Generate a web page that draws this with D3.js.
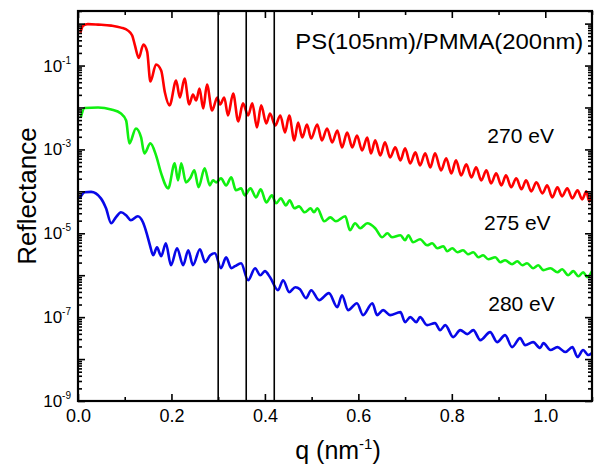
<!DOCTYPE html>
<html>
<head>
<meta charset="utf-8">
<script src="https://cdn.jsdelivr.net/npm/d3@7"></script>
<style>
  body { margin: 0; background: #fff; }
  text { font-family: "Liberation Sans", Arial, sans-serif; fill: #000; }
</style>
</head>
<body>
<svg id="chart" width="595" height="464"></svg>
<script>
// values: [q (nm^-1), reflectance]
const red270 = [
  [0.005, 6.1e-1], [0.011, 8.96e-1], [0.021, 9.73e-1], [0.043, 9.47e-1], [0.071, 8.96e-1],
  [0.092, 8.03e-1], [0.107, 6.81e-1], [0.116, 5.18e-1], [0.122, 2.99e-1], [0.130, 1.51e-1],
  [0.140, 3.16e-1], [0.148, 2.15e-1], [0.155, 4.16e-2], [0.167, 1.06e-1], [0.178, 7.6e-2],
  [0.186, 2.28e-2], [0.196, 1.12e-2], [0.210, 4.39e-2], [0.218, 1.73e-2], [0.228, 4.9e-2],
  [0.238, 1.18e-2], [0.246, 2.04e-2], [0.253, 1.47e-2], [0.260, 2.83e-2], [0.268, 9.47e-3],
  [0.276, 3.53e-2], [0.287, 8.48e-3], [0.298, 1.73e-2], [0.304, 1.18e-2], [0.313, 1.73e-2],
  [0.321, 6.45e-3], [0.332, 2.15e-2], [0.343, 4.64e-3], [0.353, 1.25e-2], [0.364, 6.45e-3],
  [0.373, 1.25e-2], [0.383, 3.34e-3], [0.392, 1.12e-2], [0.403, 4.16e-3], [0.411, 7.2e-3],
  [0.422, 3.73e-3], [0.433, 6.45e-3], [0.443, 2.54e-3], [0.452, 6.45e-3], [0.463, 1.64e-3],
  [0.471, 4.39e-3], [0.480, 1.93e-3], [0.490, 3.94e-3], [0.499, 1.83e-3], [0.512, 3.94e-3],
  [0.522, 1.64e-3], [0.533, 3.16e-3], [0.544, 1.47e-3], [0.555, 2.83e-3], [0.565, 1.12e-3],
  [0.576, 2.54e-3], [0.587, 1.12e-3], [0.597, 2.15e-3], [0.608, 9.47e-4], [0.619, 1.93e-3],
  [0.627, 8.03e-4], [0.636, 1.64e-3], [0.647, 7.2e-4], [0.657, 1.47e-3], [0.668, 6.45e-4],
  [0.679, 1.12e-3], [0.690, 5.47e-4], [0.700, 1.06e-3], [0.711, 4.64e-4], [0.722, 8.48e-4],
  [0.732, 4.16e-4], [0.743, 8.03e-4], [0.754, 3.73e-4], [0.764, 8.03e-4], [0.777, 3.16e-4],
  [0.788, 6.11e-4], [0.799, 2.68e-4], [0.809, 5.47e-4], [0.820, 2.4e-4], [0.831, 4.39e-4],
  [0.842, 2.15e-4], [0.852, 3.73e-4], [0.863, 1.83e-4], [0.874, 3.16e-4], [0.884, 1.55e-4],
  [0.895, 2.68e-4], [0.906, 1.39e-4], [0.916, 2.4e-4], [0.927, 1.25e-4], [0.938, 2.04e-4],
  [0.949, 1.12e-4], [0.959, 1.83e-4], [0.970, 1.0e-4], [0.981, 1.64e-4], [0.994, 8.96e-5],
  [1.004, 1.39e-4], [1.015, 7.2e-5], [1.026, 1.25e-4], [1.036, 7.6e-5], [1.047, 1.18e-4],
  [1.058, 6.81e-5], [1.069, 1.06e-4], [1.079, 6.45e-5], [1.088, 1.0e-4], [1.094, 5.78e-5],
  [1.100, 8.48e-5]
];

const green275 = [
  [0.006, 5.78e-3], [0.014, 9.73e-3], [0.043, 1.0e-2], [0.071, 8.96e-3], [0.092, 7.2e-3],
  [0.103, 4.9e-3], [0.110, 1.39e-3], [0.124, 3.16e-3], [0.135, 1.93e-3], [0.142, 8.03e-4],
  [0.155, 1.39e-3], [0.167, 7.2e-4], [0.178, 2.68e-4], [0.193, 1.18e-4], [0.207, 4.64e-4],
  [0.214, 1.83e-4], [0.221, 4.64e-4], [0.231, 1.64e-4], [0.240, 2.04e-4], [0.249, 3.16e-4],
  [0.258, 1.25e-4], [0.271, 3.53e-4], [0.282, 1.39e-4], [0.289, 1.83e-4], [0.296, 1.64e-4],
  [0.306, 2.04e-4], [0.317, 1.39e-4], [0.328, 2.15e-4], [0.338, 1.06e-4], [0.349, 1.18e-4],
  [0.357, 8.03e-5], [0.369, 1.18e-4], [0.381, 7.2e-5], [0.391, 1.12e-4], [0.403, 5.47e-5],
  [0.415, 8.03e-5], [0.424, 5.18e-5], [0.434, 6.81e-5], [0.445, 4.64e-5], [0.453, 6.11e-5],
  [0.463, 3.94e-5], [0.473, 4.39e-5], [0.485, 3.16e-5], [0.498, 3.94e-5], [0.505, 3.16e-5],
  [0.512, 3.94e-5], [0.527, 1.93e-5], [0.540, 2.4e-5], [0.552, 1.93e-5], [0.572, 2.54e-5],
  [0.582, 1.18e-5], [0.593, 1.73e-5], [0.604, 1.32e-5], [0.619, 1.73e-5], [0.636, 1.32e-5],
  [0.651, 8.03e-6], [0.662, 1.0e-5], [0.672, 8.03e-6], [0.690, 8.96e-6], [0.700, 6.81e-6],
  [0.707, 8.96e-6], [0.717, 6.11e-6], [0.732, 7.2e-6], [0.747, 5.18e-6], [0.758, 5.78e-6],
  [0.769, 4.39e-6], [0.782, 4.9e-6], [0.790, 3.73e-6], [0.801, 4.39e-6], [0.812, 3.53e-6],
  [0.824, 3.94e-6], [0.835, 3.16e-6], [0.846, 3.53e-6], [0.857, 2.68e-6], [0.867, 2.99e-6],
  [0.878, 2.4e-6], [0.893, 2.68e-6], [0.904, 2.04e-6], [0.914, 2.28e-6], [0.929, 1.83e-6],
  [0.940, 2.15e-6], [0.951, 1.73e-6], [0.961, 1.93e-6], [0.974, 1.47e-6], [0.985, 1.73e-6],
  [0.996, 1.32e-6], [1.011, 1.47e-6], [1.026, 1.18e-6], [1.036, 1.39e-6], [1.049, 1.0e-6],
  [1.060, 1.25e-6], [1.071, 9.47e-7], [1.081, 1.18e-6], [1.090, 8.96e-7], [1.100, 1.25e-6]
];

const blue280 = [
  [0.004, 6.81e-5], [0.014, 9.47e-5], [0.028, 9.73e-5], [0.049, 6.81e-5], [0.060, 3.94e-5],
  [0.071, 1.73e-5], [0.081, 2.4e-5], [0.092, 3.16e-5], [0.103, 2.68e-5], [0.113, 2.04e-5],
  [0.128, 2.54e-5], [0.139, 1.83e-5], [0.147, 1.0e-5], [0.154, 5.18e-6], [0.161, 2.99e-6],
  [0.169, 4.64e-6], [0.178, 2.83e-6], [0.188, 5.78e-6], [0.199, 1.73e-6], [0.212, 4.39e-6],
  [0.225, 1.73e-6], [0.236, 3.94e-6], [0.246, 1.73e-6], [0.261, 4.16e-6], [0.272, 2.04e-6],
  [0.283, 2.99e-6], [0.293, 3.34e-6], [0.306, 1.47e-6], [0.317, 2.68e-6], [0.328, 1.47e-6],
  [0.336, 1.64e-6], [0.349, 1.93e-6], [0.364, 7.6e-7], [0.379, 1.47e-6], [0.390, 1.0e-6],
  [0.400, 1.25e-6], [0.411, 8.96e-7], [0.428, 4.39e-7], [0.439, 7.6e-7], [0.452, 3.94e-7],
  [0.465, 5.18e-7], [0.475, 4.64e-7], [0.488, 2.83e-7], [0.499, 4.39e-7], [0.516, 2.54e-7],
  [0.537, 3.73e-7], [0.555, 1.73e-7], [0.565, 3.34e-7], [0.578, 1.47e-7], [0.597, 2.15e-7],
  [0.610, 1.12e-7], [0.630, 2.15e-7], [0.640, 1.12e-7], [0.653, 1.47e-7], [0.668, 1.12e-7],
  [0.690, 1.32e-7], [0.700, 7.6e-8], [0.711, 1.0e-7], [0.724, 7.6e-8], [0.732, 1.0e-7],
  [0.747, 6.45e-8], [0.764, 7.2e-8], [0.775, 4.9e-8], [0.786, 6.45e-8], [0.803, 3.34e-8],
  [0.818, 4.9e-8], [0.833, 3.94e-8], [0.846, 4.9e-8], [0.861, 2.83e-8], [0.882, 4.39e-8],
  [0.897, 2.54e-8], [0.914, 3.73e-8], [0.929, 1.93e-8], [0.946, 3.16e-8], [0.957, 2.15e-8],
  [0.974, 2.54e-8], [0.989, 1.83e-8], [0.996, 2.4e-8], [1.011, 1.64e-8], [1.026, 1.93e-8],
  [1.043, 1.47e-8], [1.058, 1.93e-8], [1.069, 1.12e-8], [1.081, 1.64e-8], [1.092, 1.25e-8],
  [1.100, 1.39e-8]
];

// vertical marker lines
const markerQ = [0.3, 0.36, 0.42];

// tick labels
const xTicks = [0, 0.2, 0.4, 0.6, 0.8, 1.0];
const xMinorTicks = [0.1, 0.3, 0.5, 0.7, 0.9, 1.1];
const yLabelExps = [-1, -3, -5, -7, -9];

// text annotations placed in data coordinates
const annotations = [
  { text: "PS(105nm)/PMMA(200nm)", q: 0.465, r: 0.254, width: 288 },
  { text: "270 eV", q: 0.876, r: 1.39e-3 },
  { text: "275 eV", q: 0.869, r: 1.18e-5 },
  { text: "280 eV", q: 0.878, r: 1.39e-7 }
];

const series = [
  { values: red270, color: "#ff0000" },
  { values: green275, color: "#10f010" },
  { values: blue280, color: "#0808e8" }
];

let svg = d3.select("#chart");

const plotLeft = 78, plotRight = 592, plotTop = 11, plotBottom = 401;

let x = d3.scaleLinear().domain([0, 1.1]).range([plotLeft, plotRight]);
let y = d3.scaleLog().domain([1e-9, 2]).range([plotBottom, plotTop]);

// decade and minor ticks for the log axis
let decades = d3.range(-9, 1).map((e) => +("1e" + e));
let minors = [];
d3.range(-9, 1).forEach(function (e) {
  for (let m = 2; m <= 9; m++) {
    let v = +(m + "e" + e);
    if (v <= 2) minors.push(v);
  }
});

svg.append("clipPath").attr("id", "plotClip")
  .append("rect")
  .attr("x", plotLeft).attr("y", plotTop)
  .attr("width", plotRight - plotLeft).attr("height", plotBottom - plotTop);

// curves
let line = d3.line()
  .x((d) => x(d[0]))
  .y((d) => y(d[1]))
  .curve(d3.curveMonotoneX);

let curves = svg.append("g").attr("clip-path", "url(#plotClip)");
series.forEach(function (s) {
  curves.append("path")
    .attr("d", line(s.values))
    .attr("fill", "none")
    .attr("stroke", s.color)
    .attr("stroke-width", 2.6)
    .attr("stroke-linejoin", "round");
});

// marker lines
svg.append("g").selectAll("line")
  .data(markerQ)
  .join("line")
  .attr("x1", (d) => x(d)).attr("x2", (d) => x(d))
  .attr("y1", plotTop).attr("y2", plotBottom)
  .attr("stroke", "#000")
  .attr("stroke-width", 1.6);

// axes, ticks pointing inwards on all four sides
function styleAxis(g) {
  g.select(".domain").remove();
  g.selectAll(".tick line").attr("stroke", "#000").attr("stroke-width", 1.6);
}

svg.append("g").attr("transform", `translate(0,${plotBottom})`)
  .call(d3.axisBottom(x).tickValues(xTicks).tickSize(-7).tickPadding(8)
    .tickFormat(d3.format(".1f")))
  .call(styleAxis)
  .call((g) => g.selectAll("text")
    .attr("font-size", 18)
    .attr("font-family", "Liberation Sans, Arial, sans-serif")
    .attr("fill", "#000"));

svg.append("g").attr("transform", `translate(0,${plotBottom})`)
  .call(d3.axisBottom(x).tickValues(xMinorTicks).tickSize(-4).tickFormat(""))
  .call(styleAxis);

svg.append("g").attr("transform", `translate(0,${plotTop})`)
  .call(d3.axisTop(x).tickValues(xTicks).tickSize(-7).tickFormat(""))
  .call(styleAxis);

svg.append("g").attr("transform", `translate(0,${plotTop})`)
  .call(d3.axisTop(x).tickValues(xMinorTicks).tickSize(-4).tickFormat(""))
  .call(styleAxis);

svg.append("g").attr("transform", `translate(${plotLeft},0)`)
  .call(d3.axisLeft(y).tickValues(decades).tickSize(-7).tickFormat(""))
  .call(styleAxis);

svg.append("g").attr("transform", `translate(${plotLeft},0)`)
  .call(d3.axisLeft(y).tickValues(minors).tickSize(-4).tickFormat(""))
  .call(styleAxis);

svg.append("g").attr("transform", `translate(${plotRight},0)`)
  .call(d3.axisRight(y).tickValues(decades).tickSize(-7).tickFormat(""))
  .call(styleAxis);

svg.append("g").attr("transform", `translate(${plotRight},0)`)
  .call(d3.axisRight(y).tickValues(minors).tickSize(-4).tickFormat(""))
  .call(styleAxis);

// y tick labels with superscript exponents
let yLabels = svg.append("g").selectAll("text")
  .data(yLabelExps)
  .join("text")
  .attr("x", plotLeft - 7)
  .attr("y", (d) => y(+("1e" + d)) + 6)
  .attr("text-anchor", "end")
  .attr("font-size", 17);
yLabels.append("tspan").text("10");
yLabels.append("tspan")
  .attr("font-size", 10)
  .attr("dy", -8)
  .text((d) => d);

// frame
svg.append("rect")
  .attr("x", plotLeft).attr("y", plotTop)
  .attr("width", plotRight - plotLeft).attr("height", plotBottom - plotTop)
  .attr("fill", "none")
  .attr("stroke", "#000")
  .attr("stroke-width", 2.2);

// annotations
annotations.forEach(function (a) {
  let t = svg.append("text")
    .attr("x", x(a.q))
    .attr("y", y(a.r))
    .attr("font-size", a.width ? 22 : 21)
    .text(a.text);
  if (a.width) t.attr("textLength", a.width).attr("lengthAdjust", "spacingAndGlyphs");
});

// axis titles
let xTitle = svg.append("text")
  .attr("x", (plotLeft + plotRight) / 2 + 3)
  .attr("y", 459)
  .attr("text-anchor", "middle")
  .attr("font-size", 25);
xTitle.append("tspan").text("q (nm");
xTitle.append("tspan").attr("font-size", 15).attr("dy", -10).text("-1");
xTitle.append("tspan").attr("dy", 10).text(")");

svg.append("text")
  .attr("transform", "translate(36,196) rotate(-90)")
  .attr("text-anchor", "middle")
  .attr("font-size", 26)
  .text("Reflectance");
</script>
</body>
</html>
